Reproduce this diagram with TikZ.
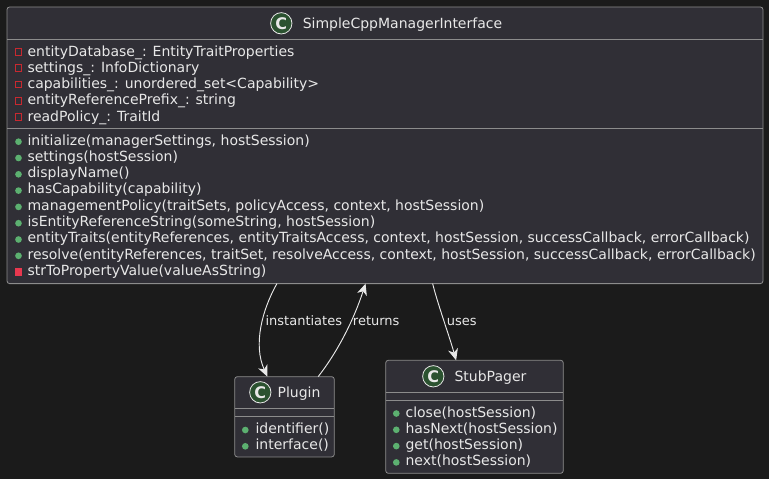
\documentclass[tikz,border=0pt]{standalone}
\usepackage{fontspec}
\setmainfont{DejaVu Sans}
\usetikzlibrary{arrows.meta}
\definecolor{pagebg}{HTML}{1B1B1B}
\definecolor{classbg}{HTML}{302F36}
\definecolor{classline}{HTML}{8C8C8C}
\definecolor{inktext}{HTML}{E8E8E8}
\definecolor{iconbg}{HTML}{2B5230}
\definecolor{pubdot}{HTML}{5CB070}
\definecolor{privred}{HTML}{C82930}
\definecolor{privfill}{HTML}{E8384F}
\tikzset{
    classbox/.style={draw=classline, fill=classbg, rounded corners=2pt, line width=0.6pt, inner sep=0pt, outer sep=0pt},
    classname/.style={anchor=base west, text=inktext, font=\fontsize{10.5pt}{12pt}\selectfont, inner sep=0pt},
    member/.style={anchor=base west, text=inktext, font=\fontsize{10.5pt}{12pt}\selectfont, inner sep=0pt},
    edgetext/.style={anchor=base west, text=inktext, font=\fontsize{9.75pt}{12pt}\selectfont, inner sep=0pt},
    classicon/.style={circle, draw=inktext, fill=iconbg, line width=0.6pt, minimum size=16pt, inner sep=0pt, text=inktext, font=\bfseries\fontsize{12pt}{12pt}\selectfont},
    pubicon/.style={circle, fill=pubdot, minimum size=5pt, inner sep=0pt},
    privfield/.style={rectangle, draw=privred, line width=0.75pt, minimum size=5pt, inner sep=0pt},
    privmethod/.style={rectangle, fill=privfill, minimum size=5.5pt, inner sep=0pt},
    relation/.style={draw=inktext, line width=0.7pt, -{Stealth[inset=2.5pt, length=8.5pt, width=7.5pt]}}
}
\begin{document}
\begin{tikzpicture}[x=0.75pt, y=-0.75pt]
    % page
    \fill[pagebg] (0,0) rectangle (769,479);
    \useasboundingbox (0,0) rectangle (769,479);
    % SimpleCppManagerInterface
    \node[classbox, minimum width=567pt, minimum height=207.5pt] (manager) at (385,145.3) {};
    \draw[classline, line width=0.6pt] (7,39.3) -- (763,39.3);
    \draw[classline, line width=0.6pt] (7,128) -- (763,128);
    \node[classicon] (managericon) at (281.3,23.3) {C};
    \node[classname] (managername) at (302.5,28) {SimpleCppManagerInterface};
    % fields
    \node[privfield] (f1icon) at (18.5,52) {};
    \node[member] (f1) at (27.3,56) {entityDatabase\_: EntityTraitProperties};
    \node[privfield] (f2icon) at (18.5,68.3) {};
    \node[member] (f2) at (27.3,72.3) {settings\_: InfoDictionary};
    \node[privfield] (f3icon) at (18.5,84.6) {};
    \node[member] (f3) at (27.3,88.6) {capabilities\_: unordered\_set<Capability>};
    \node[privfield] (f4icon) at (18.5,100.9) {};
    \node[member] (f4) at (27.3,104.9) {entityReferencePrefix\_: string};
    \node[privfield] (f5icon) at (18.5,117.2) {};
    \node[member] (f5) at (27.3,121.2) {readPolicy\_: TraitId};
    % methods
    \node[pubicon] (m1icon) at (18.5,141.7) {};
    \node[member] (m1) at (27.3,145) {initialize(managerSettings, hostSession)};
    \node[pubicon] (m2icon) at (18.5,158) {};
    \node[member] (m2) at (27.3,161.3) {settings(hostSession)};
    \node[pubicon] (m3icon) at (18.5,174.3) {};
    \node[member] (m3) at (27.3,177.6) {displayName()};
    \node[pubicon] (m4icon) at (18.5,190.6) {};
    \node[member] (m4) at (27.3,193.9) {hasCapability(capability)};
    \node[pubicon] (m5icon) at (18.5,206.9) {};
    \node[member] (m5) at (27.3,210.2) {managementPolicy(traitSets, policyAccess, context, hostSession)};
    \node[pubicon] (m6icon) at (18.5,223.2) {};
    \node[member] (m6) at (27.3,226.5) {isEntityReferenceString(someString, hostSession)};
    \node[pubicon] (m7icon) at (18.5,239.5) {};
    \node[member] (m7) at (27.3,242.8) {entityTraits(entityReferences, entityTraitsAccess, context, hostSession, successCallback, errorCallback)};
    \node[pubicon] (m8icon) at (18.5,255.8) {};
    \node[member] (m8) at (27.3,259.1) {resolve(entityReferences, traitSet, resolveAccess, context, hostSession, successCallback, errorCallback)};
    \node[privmethod] (m9icon) at (18.5,272) {};
    \node[member] (m9) at (27.3,275.4) {strToPropertyValue(valueAsString)};
    % Plugin
    \node[classbox, minimum width=74.7pt, minimum height=60.2pt] (plugin) at (284.5,416.8) {};
    \draw[classline, line width=0.6pt] (234.7,408.3) -- (334.3,408.3);
    \draw[classline, line width=0.6pt] (234.7,416.3) -- (334.3,416.3);
    \node[classicon] (pluginicon) at (260.3,392.3) {C};
    \node[classname] (pluginname) at (277.3,397) {Plugin};
    \node[pubicon] (p1icon) at (245.3,430) {};
    \node[member] (p1) at (255.3,433) {identifier()};
    \node[pubicon] (p2icon) at (245.3,446.3) {};
    \node[member] (p2) at (255.3,449.3) {interface()};
    % StubPager
    \node[classbox, minimum width=133.2pt, minimum height=84.8pt] (pager) at (474.5,416.8) {};
    \draw[classline, line width=0.6pt] (385.7,392.3) -- (563.3,392.3);
    \draw[classline, line width=0.6pt] (385.7,400.3) -- (563.3,400.3);
    \node[classicon] (pagericon) at (433.3,376.3) {C};
    \node[classname] (pagername) at (454.3,381) {StubPager};
    \node[pubicon] (s1icon) at (396.3,413.5) {};
    \node[member] (s1) at (405.3,417) {close(hostSession)};
    \node[pubicon] (s2icon) at (396.3,429.8) {};
    \node[member] (s2) at (405.3,433.3) {hasNext(hostSession)};
    \node[pubicon] (s3icon) at (396.3,446.1) {};
    \node[member] (s3) at (405.3,449.6) {get(hostSession)};
    \node[pubicon] (s4icon) at (396.3,462.4) {};
    \node[member] (s4) at (405.3,465.9) {next(hostSession)};
    % relations
    \draw[relation] (manager.-128.5) .. controls (262,310) and (253,345) .. (plugin.113.5);
    \draw[relation] (plugin.50.3) .. controls (335,355) and (352,325) .. (manager.-98.65);
    \draw[relation] (manager.-71.9) .. controls (438,305) and (449,335) .. (pager.108.1);
    \node[edgetext] (instantiates) at (265.3,325.7) {instantiates};
    \node[edgetext] (returns) at (352.7,325.7) {returns};
    \node[edgetext] (uses) at (446.7,325.7) {uses};
\end{tikzpicture}
\end{document}
